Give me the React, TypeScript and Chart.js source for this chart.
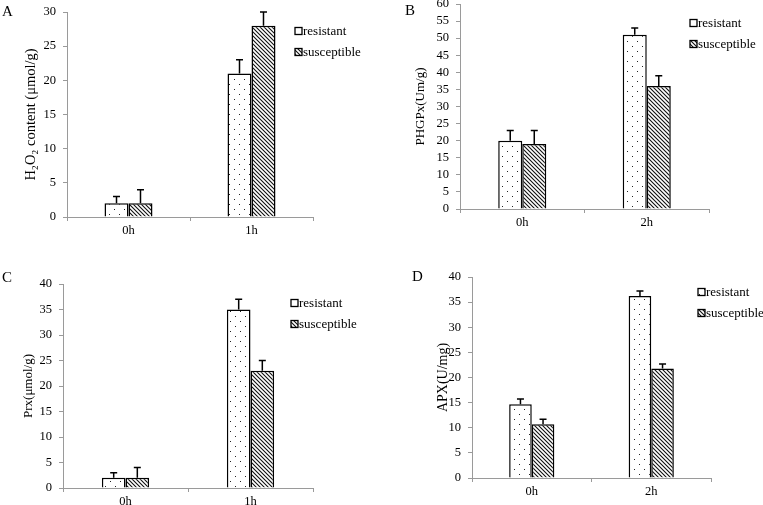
import React, { useEffect, useRef } from 'react';
import { Chart, registerables } from 'chart.js';

Chart.register(...registerables);

// ---- data ----
const seriesNames = ['resistant', 'susceptible'];

const catsA = ['0h', '1h'];
const resistantA = [2, 21];
const susceptibleA = [2, 28];
const resistantErrA = [1, 2];
const susceptibleErrA = [2, 2];

const catsB = ['0h', '2h'];
const resistantB = [20, 51];
const susceptibleB = [19, 36];
const resistantErrB = [3, 2];
const susceptibleErrB = [4, 3];

const catsC = ['0h', '1h'];
const resistantC = [2, 35];
const susceptibleC = [2, 23];
const resistantErrC = [1, 2];
const susceptibleErrC = [2, 2];

const catsD = ['0h', '2h'];
const resistantD = [14.7, 36.2];
const susceptibleD = [10.7, 21.8];
const resistantErrD = [1, 1];
const susceptibleErrD = [1, 0.9];

const yTitles = ['H\u2082O\u2082 content (\u03bcmol/g)', 'PHGPx(Um/g)', 'Prx(\u03bcmol/g)', 'APX(U/mg)'];
const yMaxes = [30, 60, 40, 40];
const panelLetters = ['A', 'B', 'C', 'D'];

const FONT = "'Liberation Serif', 'Times New Roman', serif";

type PanelCfg = {
  letter: string;
  cats: string[];
  res: number[];
  sus: number[];
  resErr: number[];
  susErr: number[];
  yTitle: string;
  yMax: number;
  area: { left: number; top: number; right: number; bottom: number };
  titleX: number;
  titleSize: number;
  letterPos: [number, number];
  legend: { x: number; y1: number; y2: number };
  catPct: number;
};

const panels: PanelCfg[] = [
  {
    letter: panelLetters[0], cats: catsA, res: resistantA, sus: susceptibleA,
    resErr: resistantErrA, susErr: susceptibleErrA, yTitle: yTitles[0], yMax: yMaxes[0],
    area: { left: 67, top: 12, right: 313, bottom: 217 }, titleX: 31, titleSize: 14.5,
    letterPos: [2, 12], legend: { x: 295, y1: 31, y2: 52 }, catPct: 0.39,
  },
  {
    letter: panelLetters[1], cats: catsB, res: resistantB, sus: susceptibleB,
    resErr: resistantErrB, susErr: susceptibleErrB, yTitle: yTitles[1], yMax: yMaxes[1],
    area: { left: 460, top: 4, right: 709, bottom: 209 }, titleX: 421, titleSize: 13,
    letterPos: [405, 11], legend: { x: 690, y1: 23, y2: 44 }, catPct: 0.386,
  },
  {
    letter: panelLetters[2], cats: catsC, res: resistantC, sus: susceptibleC,
    resErr: resistantErrC, susErr: susceptibleErrC, yTitle: yTitles[2], yMax: yMaxes[2],
    area: { left: 63, top: 284, right: 313, bottom: 488 }, titleX: 29, titleSize: 13,
    letterPos: [2, 278], legend: { x: 291, y1: 303, y2: 324 }, catPct: 0.378,
  },
  {
    letter: panelLetters[3], cats: catsD, res: resistantD, sus: susceptibleD,
    resErr: resistantErrD, susErr: susceptibleErrD, yTitle: yTitles[3], yMax: yMaxes[3],
    area: { left: 472, top: 277, right: 711, bottom: 478 }, titleX: 443, titleSize: 14,
    letterPos: [412, 277], legend: { x: 698, y1: 292, y2: 313 }, catPct: 0.378,
  },
];

const PAD_L = 70, PAD_T = 20, PAD_R = 70, PAD_B = 35;

function makeDots(): CanvasPattern | string {
  const c = document.createElement('canvas');
  c.width = 10; c.height = 10;
  const g = c.getContext('2d');
  if (!g) return '#fff';
  g.fillStyle = '#fff'; g.fillRect(0, 0, 10, 10);
  g.fillStyle = '#222';
  g.fillRect(2, 2, 1, 1);
  g.fillRect(7, 7, 1, 1);
  return g.createPattern(c, 'repeat') || '#fff';
}

function makeHatch(): CanvasPattern | string {
  const s = 4;
  const c = document.createElement('canvas');
  c.width = s; c.height = s;
  const g = c.getContext('2d');
  if (!g) return '#888';
  g.fillStyle = '#fff'; g.fillRect(0, 0, s, s);
  g.strokeStyle = '#111'; g.lineWidth = 1.1;
  g.beginPath();
  g.moveTo(-1, -1); g.lineTo(s + 1, s + 1);
  g.moveTo(-1, s - 1); g.lineTo(1, s + 1);
  g.moveTo(s - 1, -1); g.lineTo(s + 1, 1);
  g.stroke();
  return g.createPattern(c, 'repeat') || '#888';
}

const errorBarsPlugin = {
  id: 'errorBars',
  afterDatasetsDraw(chart: any, _args: any, opts: any) {
    const errs: number[][] = opts.errors || [];
    const ctx = chart.ctx;
    const y = chart.scales.y;
    chart.data.datasets.forEach((ds: any, i: number) => {
      const meta = chart.getDatasetMeta(i);
      meta.data.forEach((bar: any, j: number) => {
        const v = ds.data[j] as number;
        const e = (errs[i] || [])[j] || 0;
        const top = y.getPixelForValue(v + e);
        ctx.save();
        ctx.strokeStyle = '#000';
        ctx.lineWidth = 1.5;
        ctx.beginPath();
        ctx.moveTo(bar.x, bar.y);
        ctx.lineTo(bar.x, top);
        ctx.moveTo(bar.x - 3.5, top);
        ctx.lineTo(bar.x + 3.5, top);
        ctx.stroke();
        ctx.restore();
      });
    });
  },
};

const decorPlugin = {
  id: 'decor',
  afterDraw(chart: any, _args: any, opts: any) {
    const ctx = chart.ctx;
    const ox = opts.ox, oy = opts.oy;
    ctx.save();
    ctx.fillStyle = '#000';
    ctx.font = `15px ${FONT}`;
    ctx.textAlign = 'left';
    ctx.textBaseline = 'middle';
    ctx.fillText(opts.letter, opts.letterPos[0] - ox, opts.letterPos[1] - oy);
    const fills = [opts.fillRes, opts.fillSus];
    const ys = [opts.legend.y1, opts.legend.y2];
    ctx.font = `13px ${FONT}`;
    for (let i = 0; i < 2; i++) {
      const bx = opts.legend.x - ox;
      const by = ys[i] - oy;
      ctx.fillStyle = fills[i];
      ctx.fillRect(bx, by - 3.5, 7, 7);
      ctx.strokeStyle = '#000';
      ctx.lineWidth = 1.3;
      ctx.strokeRect(bx, by - 3.5, 7, 7);
      ctx.fillStyle = '#000';
      ctx.fillText(opts.names[i], bx + 8, by + 0.5);
    }
    ctx.restore();
  },
};

function Panel({ cfg }: { cfg: PanelCfg }) {
  const ref = useRef<HTMLCanvasElement | null>(null);
  const cx = cfg.area.left - PAD_L;
  const cy = cfg.area.top - PAD_T;
  const cw = cfg.area.right - cfg.area.left + PAD_L + PAD_R;
  const ch = cfg.area.bottom - cfg.area.top + PAD_T + PAD_B;

  useEffect(() => {
    if (!ref.current) return;
    const dots = makeDots();
    const hatch = makeHatch();
    const titleLH = cfg.titleSize * 1.2;
    const chart = new Chart(ref.current, {
      type: 'bar',
      data: {
        labels: cfg.cats,
        datasets: [
          {
            label: seriesNames[0], data: cfg.res, backgroundColor: dots as any,
            borderColor: '#000', borderWidth: 1.5, borderSkipped: 'bottom',
            categoryPercentage: cfg.catPct, barPercentage: 1,
          },
          {
            label: seriesNames[1], data: cfg.sus, backgroundColor: hatch as any,
            borderColor: '#000', borderWidth: 1.5, borderSkipped: 'bottom',
            categoryPercentage: cfg.catPct, barPercentage: 1,
          },
        ],
      },
      options: {
        responsive: false,
        animation: false,
        devicePixelRatio: 1,
        layout: { padding: { left: 0, top: PAD_T, right: PAD_R, bottom: 0 } },
        plugins: {
          legend: { display: false },
          tooltip: { enabled: false },
          errorBars: { errors: [cfg.resErr, cfg.susErr] },
          decor: {
            ox: cx, oy: cy, letter: cfg.letter, letterPos: cfg.letterPos,
            legend: cfg.legend, names: seriesNames, fillRes: dots, fillSus: hatch,
          },
        } as any,
        scales: {
          x: {
            type: 'category',
            offset: true,
            grid: { display: true, offset: true, drawOnChartArea: false, drawTicks: true, tickLength: 4, color: '#9a9a9a', lineWidth: 1 },
            border: { display: true, color: '#9a9a9a', width: 1 },
            ticks: { color: '#000', font: { family: FONT, size: 12.5 }, padding: 2 },
            afterFit: (s: any) => { s.height = PAD_B; },
          },
          y: {
            min: 0,
            max: cfg.yMax,
            ticks: { stepSize: 5, autoSkip: false, color: '#000', font: { family: FONT, size: 12.5 }, padding: 7 },
            grid: { display: true, drawOnChartArea: false, drawTicks: true, tickLength: 4, color: '#9a9a9a', lineWidth: 1 },
            border: { display: true, color: '#9a9a9a', width: 1 },
            title: {
              display: true,
              text: cfg.yTitle,
              color: '#000',
              font: { family: FONT, size: cfg.titleSize },
              padding: { top: cfg.titleX - cx - titleLH / 2, bottom: 0 },
            },
            afterFit: (s: any) => { s.width = PAD_L; },
          },
        },
      } as any,
      plugins: [errorBarsPlugin, decorPlugin],
    });
    return () => chart.destroy();
  }, []);

  return (
    <canvas
      ref={ref}
      width={cw}
      height={ch}
      style={{ position: 'absolute', left: cx, top: cy, width: cw, height: ch }}
    />
  );
}

export default function App() {
  return (
    <div style={{ position: 'fixed', left: 0, top: 0, width: 763, height: 505, overflow: 'hidden', background: '#fff' }}>
      {panels.map((p) => (
        <Panel key={p.letter} cfg={p} />
      ))}
    </div>
  );
}
